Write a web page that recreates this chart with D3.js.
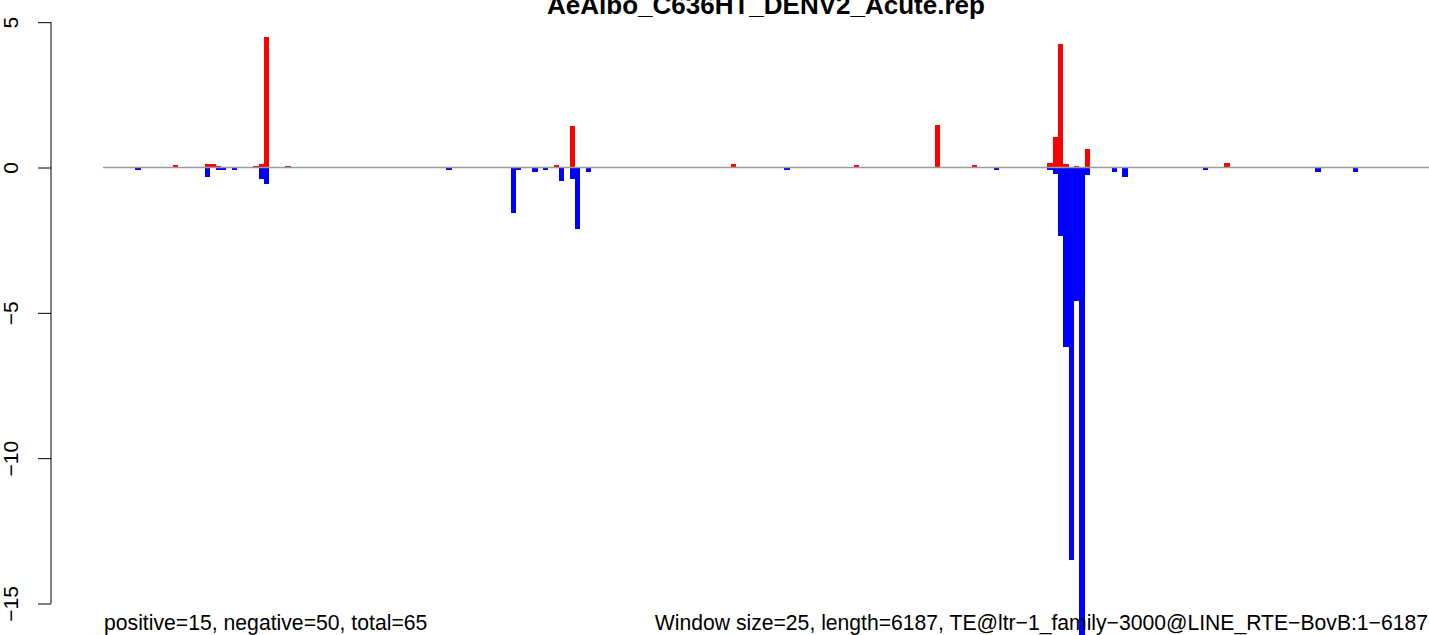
<!DOCTYPE html>
<html>
<head>
<meta charset="utf-8">
<script src="https://cdn.jsdelivr.net/npm/d3@7"></script>
<style>
  html, body { margin: 0; padding: 0; background: #fff; overflow: hidden; }
  svg { display: block; font-family: "Liberation Sans", Arial, sans-serif; }
</style>
</head>
<body>
<svg id="chart" width="1429" height="635"></svg>
<script>
// ---- data ----
const chartTitle = "AeAlbo_C636HT_DENV2_Acute.rep";
const seqLength = 6187;
const windowSize = 25;
// window start positions (bp) and values of positive-strand signal
const posStarts = [325, 475, 500, 525, 700, 725, 750, 850, 2100, 2175, 2925, 3500, 3875, 4050, 4400, 4425, 4450, 4475, 4525, 4575, 5225];
const posValues = [0.08, 0.13, 0.13, 0.06, 0.06, 0.12, 4.49, 0.06, 0.07, 1.44, 0.12, 0.07, 1.46, 0.07, 0.15, 1.05, 4.25, 0.12, 0.06, 0.64, 0.15];
// window start positions (bp) and values of negative-strand signal
const negStarts = [150, 475, 525, 550, 600, 725, 750, 1600, 1900, 1925, 2000, 2050, 2125, 2175, 2200, 2250, 3175, 4150, 4400, 4425, 4450, 4475, 4500, 4525, 4550, 4575, 4700, 4750, 5125, 5650, 5825];
const negValues = [-0.08, -0.32, -0.08, -0.08, -0.08, -0.38, -0.56, -0.08, -1.55, -0.08, -0.15, -0.08, -0.48, -0.38, -2.1, -0.14, -0.08, -0.08, -0.07, -0.21, -2.34, -6.16, -13.5, -4.58, -17, -0.25, -0.15, -0.32, -0.08, -0.15, -0.15];
const yTicks = [5, 0, -5, -10, -15];
const leftNote = "positive=15, negative=50, total=65";
const rightNote = "Window size=25, length=6187, TE@ltr\u22121_family\u22123000@LINE_RTE\u2212BovB:1\u22126187";

// ---- layout ----
const svg = d3.select("#chart");
const x = d3.scaleLinear().domain([0, seqLength]).range([103, 1430.7]);
const y = d3.scaleLinear().domain([0, -15]).range([167.5, 603.5]);

// bars
const pos = posStarts.map((s, i) => ({s, v: posValues[i]}));
const neg = negStarts.map((s, i) => ({s, v: negValues[i]}));

svg.append("g").selectAll("rect").data(pos).join("rect")
  .attr("x", d => x(d.s))
  .attr("width", d => x(d.s + windowSize) - x(d.s))
  .attr("y", d => y(d.v))
  .attr("height", d => y(0) - y(d.v))
  .attr("fill", "#ff0000")
  .attr("shape-rendering", "crispEdges");

svg.append("g").selectAll("rect").data(neg).join("rect")
  .attr("x", d => x(d.s))
  .attr("width", d => x(d.s + windowSize) - x(d.s))
  .attr("y", y(0))
  .attr("height", d => y(d.v) - y(0))
  .attr("fill", "#0000ff")
  .attr("shape-rendering", "crispEdges");

// zero line
svg.append("line")
  .attr("x1", x(0)).attr("x2", x(seqLength))
  .attr("y1", y(0)).attr("y2", y(0))
  .attr("stroke", "#9a9a9a").attr("stroke-width", 1.6);

// y axis
const axisG = svg.append("g").attr("transform", "translate(51,0)");
axisG.call(d3.axisLeft(y).tickValues(yTicks).tickSize(13).tickFormat(d => d < 0 ? "\u2212" + Math.abs(d) : String(d)));
axisG.select(".domain").attr("d", `M0,${y(5)}V${y(-15)}`).attr("stroke", "#000");
axisG.selectAll(".tick line").attr("stroke", "#000");
axisG.selectAll(".tick text")
  .attr("font-family", "Liberation Sans, Arial, sans-serif")
  .attr("font-size", 21)
  .attr("fill", "#000")
  .attr("text-anchor", "middle")
  .attr("dy", null)
  .attr("x", null)
  .attr("transform", "translate(-33,0) rotate(-90)");

// title
svg.append("text")
  .attr("x", 766).attr("y", 14)
  .attr("text-anchor", "middle")
  .attr("font-weight", "bold")
  .attr("font-size", 26)
  .text(chartTitle);

// bottom notes
svg.append("text").attr("x", 104).attr("y", 630).attr("font-size", 21.2).text(leftNote);
svg.append("text").attr("x", 1428).attr("y", 630).attr("text-anchor", "end").attr("font-size", 21.15).text(rightNote);
</script>
</body>
</html>
